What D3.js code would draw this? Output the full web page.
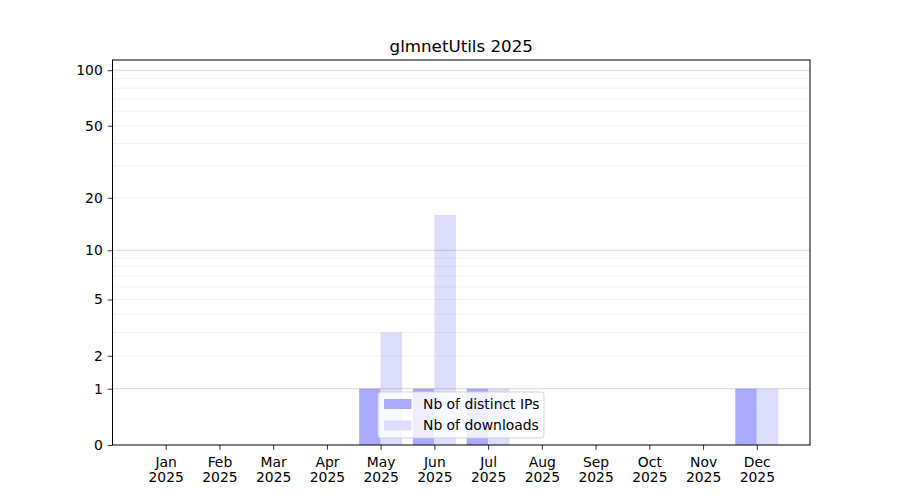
<!DOCTYPE html>
<html>
<head>
<meta charset="utf-8">
<script src="https://cdn.jsdelivr.net/npm/d3@7"></script>
<style>
  html, body { margin: 0; padding: 0; background: #fff; }
  svg { display: block; font-family: "DejaVu Sans", sans-serif; }
</style>
</head>
<body>
<svg id="chart" width="900" height="500"></svg>
<script>
const months = ["Jan","Feb","Mar","Apr","May","Jun","Jul","Aug","Sep","Oct","Nov","Dec"];
const yearLabel = "2025";
const distinctIPs = [0,0,0,0,1,1,1,0,0,0,0,1];
const downloads   = [0,0,0,0,3,16,1,0,0,0,0,1];
const seriesNames = ["Nb of distinct IPs","Nb of downloads"];
const seriesColors = ["#aaaaff","#ddddff"];
const yTickValues = [0,1,2,5,10,20,50,100];
const majorGrid = [1,10,100];
const minorGrid = [2,3,4,5,6,7,8,9,20,30,40,50,60,70,80,90];
const title = "glmnetUtils 2025";

const W = 900, H = 500;
const margin = {left: 112.5, right: 90, top: 60, bottom: 55};
const x0 = margin.left, x1 = W - margin.right, y0 = margin.top, y1 = H - margin.bottom;

const svg = d3.select("#chart");

// x: index-based linear scale, matplotlib-like margins
const barW = 0.4;
const xMinData = -barW, xMaxData = months.length - 1 + barW;
const pad = (xMaxData - xMinData) * 0.05;
const x = d3.scaleLinear().domain([xMinData - pad, xMaxData + pad]).range([x0, x1]);

// y: log10(1+v) transform
const f = v => Math.log10(1 + v);
const yT = d3.scaleLinear().domain([0, 2.059]).range([y1, y0]);
const y = v => yT(f(v));

// bars
const g = svg.append("g");
const series = [distinctIPs, downloads];
series.forEach((vals, s) => {
  g.selectAll(null).data(vals.map((v,i)=>({v,i}))).enter()
    .filter(d => d.v > 0)
    .append("rect")
    .attr("x", d => x(d.i - barW + s*barW))
    .attr("width", x(barW) - x(0))
    .attr("y", d => y(d.v))
    .attr("height", d => y1 - y(d.v))
    .attr("fill", seriesColors[s]);
});

// grid
svg.append("g").selectAll("line").data(minorGrid).enter().append("line")
  .attr("x1", x0).attr("x2", x1)
  .attr("y1", d => y(d)).attr("y2", d => y(d))
  .attr("stroke", "#000").attr("stroke-opacity", 0.07).attr("stroke-width", 0.8);
svg.append("g").selectAll("line").data(majorGrid).enter().append("line")
  .attr("x1", x0).attr("x2", x1)
  .attr("y1", d => y(d)).attr("y2", d => y(d))
  .attr("stroke", "#000").attr("stroke-opacity", 0.2).attr("stroke-width", 0.8);

// frame
svg.append("rect").attr("x", x0).attr("y", y0).attr("width", x1-x0).attr("height", y1-y0)
  .attr("fill", "none").attr("stroke", "#000").attr("stroke-width", 1);

// y axis
const yAxis = d3.axisLeft(yT)
  .tickValues(yTickValues.map(f))
  .tickFormat((d,i) => String(yTickValues[i]))
  .tickSize(4.86).tickPadding(4.86);
const ya = svg.append("g").attr("transform", `translate(${x0},0)`).call(yAxis);
ya.select(".domain").remove();
ya.selectAll("text").attr("font-size", 13.9).attr("fill", "#000").attr("font-family", "DejaVu Sans");
ya.selectAll("line").attr("stroke", "#000").attr("stroke-width", 0.8);

// x axis
const xAxis = d3.axisBottom(x)
  .tickValues(d3.range(months.length))
  .tickFormat("")
  .tickSize(4.86);
const xa = svg.append("g").attr("transform", `translate(0,${y1})`).call(xAxis);
xa.select(".domain").remove();
xa.selectAll("line").attr("stroke", "#000").attr("stroke-width", 0.8);
xa.selectAll(".tick").each(function(d, i) {
  const t = d3.select(this).append("text")
    .attr("text-anchor", "middle").attr("fill", "#000")
    .attr("font-size", 13.9).attr("font-family", "DejaVu Sans");
  t.append("tspan").attr("x", 0).attr("y", 21.5).text(months[i]);
  t.append("tspan").attr("x", 0).attr("y", 37).text(yearLabel);
});

// title
svg.append("text").attr("x", (x0 + x1)/2).attr("y", 52)
  .attr("text-anchor", "middle").attr("font-size", 16.7).attr("fill", "#000")
  .text(title);

// legend
const lg = svg.append("g").attr("transform", "translate(378,392)");
lg.append("rect").attr("width", 166).attr("height", 46).attr("rx", 3)
  .attr("fill", "#fff").attr("fill-opacity", 0.8)
  .attr("stroke", "#cccccc").attr("stroke-opacity", 0.8).attr("stroke-width", 1);
seriesNames.forEach((name, i) => {
  lg.append("rect").attr("x", 6).attr("y", 7 + i*21.5).attr("width", 27.5).attr("height", 10)
    .attr("fill", seriesColors[i]);
  lg.append("text").attr("x", 45).attr("y", 16.5 + i*21.5)
    .attr("font-size", 13.9).attr("fill", "#000").text(name);
});
</script>
</body>
</html>
